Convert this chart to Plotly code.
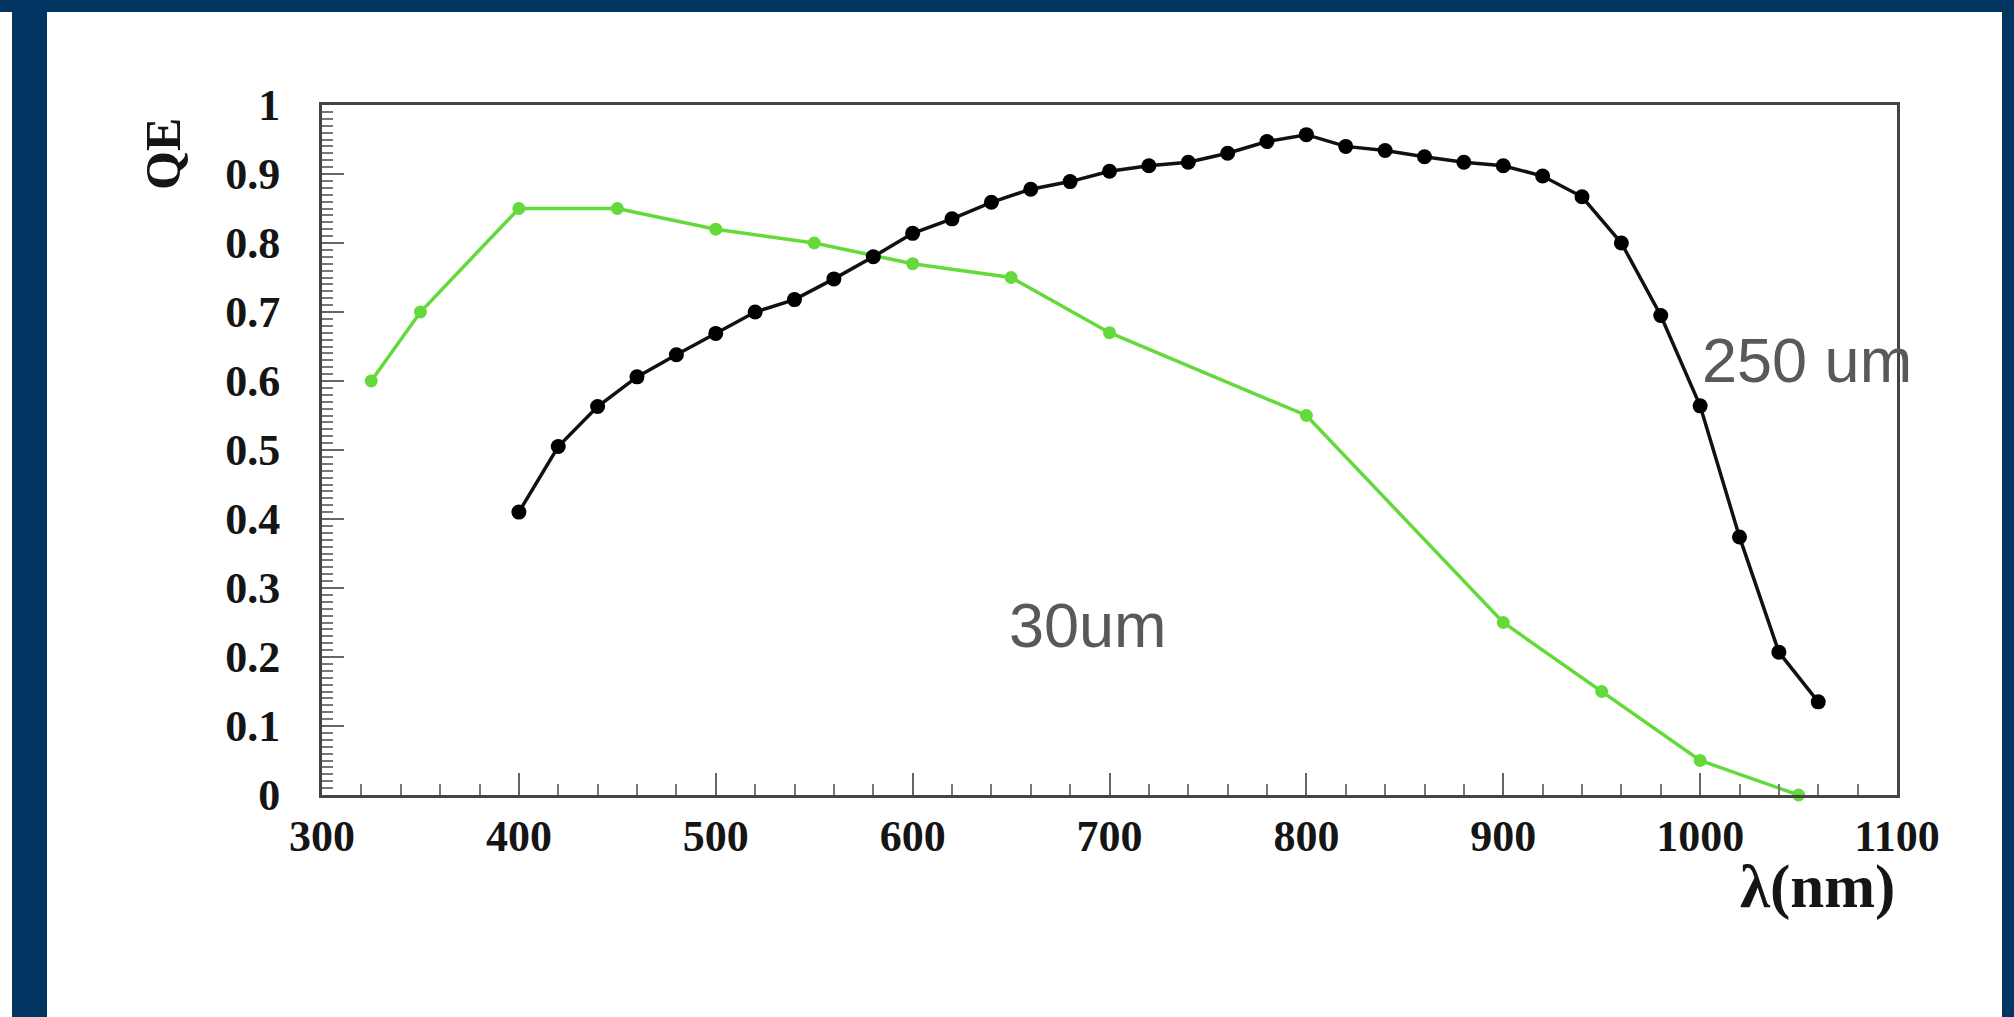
import plotly.graph_objects as go

# Quantum efficiency vs wavelength for two sensor thicknesses
wl_30um = [325, 350, 400, 450, 500, 550, 600, 650, 700, 800, 900, 950, 1000, 1050]
qe_30um = [0.60, 0.70, 0.85, 0.85, 0.82, 0.80, 0.77, 0.75, 0.67, 0.55, 0.25, 0.15, 0.05, 0.0]

wl_250um = [400, 420, 440, 460, 480, 500, 520, 540, 560, 580, 600, 620, 640, 660, 680,
            700, 720, 740, 760, 780, 800, 820, 840, 860, 880, 900, 920, 940, 960, 980,
            1000, 1020, 1040, 1060]
qe_250um = [0.41, 0.505, 0.563, 0.606, 0.638, 0.669, 0.700, 0.718, 0.748, 0.780,
            0.814, 0.835, 0.859, 0.878, 0.889, 0.904, 0.912, 0.917, 0.930, 0.947,
            0.957, 0.940, 0.934, 0.925, 0.917, 0.912, 0.897, 0.867, 0.800, 0.695,
            0.564, 0.374, 0.207, 0.135]

label_30 = "30um"
label_250 = "250 um"
x_title = "λ(nm)"
y_title = "QE"

W, H = 2014, 1017
L, R, T, B = 322, 1897, 105, 795  # plot-area edges in pixels


def px(xp):
    return (xp - L) / (R - L)


def py(yp):
    return (B - yp) / (B - T)


GREEN = "#64DA3A"
NAVY = "#023462"
SERIF = "Liberation Serif, Times New Roman, serif"
SANS = "Liberation Sans, Arial, sans-serif"

fig = go.Figure()
fig.add_trace(go.Scatter(
    x=wl_30um, y=qe_30um, mode="lines+markers",
    line=dict(color=GREEN, width=3.5),
    marker=dict(color=GREEN, size=13),
    cliponaxis=False, showlegend=False,
))
fig.add_trace(go.Scatter(
    x=wl_250um, y=qe_250um, mode="lines+markers",
    line=dict(color="#111111", width=3.5),
    marker=dict(color="#000000", size=15),
    cliponaxis=False, showlegend=False,
))

axis_common = dict(
    showgrid=False, zeroline=False,
    showline=True, linecolor="#444444", linewidth=3, mirror=True,
    ticks="inside", ticklen=22, tickwidth=2, tickcolor="#666666",
    tickfont=dict(family=SERIF, size=44, color="#151515", weight="bold"),
)

fig.update_xaxes(
    range=[300, 1100], tick0=300, dtick=100,
    minor=dict(dtick=20, ticks="inside", ticklen=11, tickwidth=2, tickcolor="#777777"),
    ticklabelstandoff=0,
    **axis_common,
)
fig.update_yaxes(
    range=[0, 1], tick0=0, dtick=0.1,
    minor=dict(dtick=0.01, ticks="inside", ticklen=11, tickwidth=2, tickcolor="#777777"),
    ticklabelstandoff=30,
    **axis_common,
)

annotations = [
    dict(x=1000, y=0.63, xref="x", yref="y", text=label_250, showarrow=False,
         xanchor="left", yanchor="middle",
         font=dict(family=SANS, size=63, color="#595959")),
    dict(x=648, y=0.246, xref="x", yref="y", text=label_30, showarrow=False,
         xanchor="left", yanchor="middle",
         font=dict(family=SANS, size=63, color="#595959")),
    dict(x=1.0, y=py(887), xref="paper", yref="paper", text=x_title, showarrow=False,
         xanchor="right", yanchor="middle",
         font=dict(family=SERIF, size=61, color="#151515", weight="bold")),
    dict(x=px(163), y=py(116), xref="paper", yref="paper", text=y_title, showarrow=False,
         textangle=-90, xanchor="center", yanchor="top",
         font=dict(family=SERIF, size=50, color="#151515", weight="bold")),
]

# Navy frame bands along the top, left and right edges of the slide
shapes = [
    dict(type="rect", xref="paper", yref="paper", x0=px(0), x1=px(W), y0=py(12), y1=py(0),
         fillcolor=NAVY, line=dict(width=0), layer="above"),
    dict(type="rect", xref="paper", yref="paper", x0=px(12), x1=px(47), y0=py(H), y1=py(0),
         fillcolor=NAVY, line=dict(width=0), layer="above"),
    dict(type="rect", xref="paper", yref="paper", x0=px(2002), x1=px(W), y0=py(H), y1=py(0),
         fillcolor=NAVY, line=dict(width=0), layer="above"),
]

fig.update_layout(
    width=W, height=H,
    margin=dict(l=L, r=W - R, t=T, b=H - B, pad=0),
    paper_bgcolor="white", plot_bgcolor="white",
    annotations=annotations, shapes=shapes,
)

fig.write_html("out.html", config={"displayModeBar": False})
